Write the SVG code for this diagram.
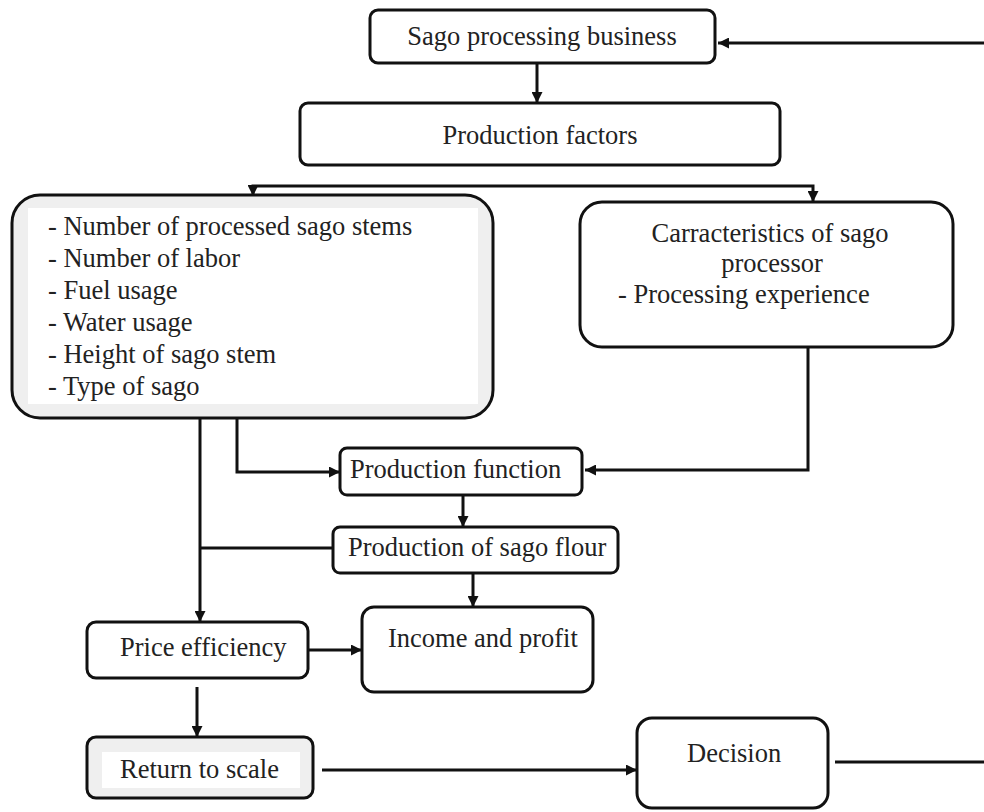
<svg xmlns="http://www.w3.org/2000/svg" width="984" height="812" viewBox="0 0 984 812">
<defs>
<style>
.box{fill:#fff;stroke:#111;stroke-width:3}
.gbox{fill:#efefef;stroke:#111;stroke-width:3}
.inner{fill:#fff;stroke:none}
.t{font-family:"Liberation Serif","Times New Roman",serif;font-size:26.5px;fill:#222}
.c{text-anchor:middle}
.ln{fill:none;stroke:#111;stroke-width:3}
.ar{fill:none;stroke:#111;stroke-width:3;marker-end:url(#ah)}
</style>
<marker id="ah" viewBox="0 0 10 10" refX="10" refY="5" markerWidth="12" markerHeight="11" markerUnits="userSpaceOnUse" orient="auto">
<path d="M0,0 L10,5 L0,10 z" fill="#111"/>
</marker>
</defs>
<rect width="984" height="812" fill="#fff"/>

<g id="connectors">
<path class="ar" d="M984,43 H718"/>
<path class="ar" d="M537,63 V103"/>
<path class="ar" d="M540,186 H253 V196"/>
<path class="ar" d="M540,186 H813 V202"/>
<path class="ar" d="M808,347 V470 H585"/>
<path class="ar" d="M237,418 V472 H340"/>
<path class="ar" d="M200,418 V622"/>
<path class="ln" d="M200,548 H333"/>
<path class="ar" d="M463,495 V527"/>
<path class="ar" d="M473,573 V607"/>
<path class="ar" d="M308,650 H362"/>
<path class="ar" d="M197,687 V737"/>
<path class="ar" d="M322,770 H637"/>
<path class="ln" d="M835,762 H984"/>
</g>

<g id="sago-business">
<rect class="box" x="370" y="10" width="345" height="53" rx="8"/>
<text class="t c" x="542" y="45">Sago processing business</text>
</g>

<g id="production-factors">
<rect class="box" x="300" y="103" width="480" height="62" rx="8"/>
<text class="t c" x="540" y="144">Production factors</text>
</g>

<g id="inputs">
<rect class="gbox" x="12" y="195" width="481" height="223" rx="28"/>
<rect class="inner" x="28" y="208" width="450" height="196"/>
<text class="t" x="48" y="235">- Number of processed sago stems</text>
<text class="t" x="48" y="267">- Number of labor</text>
<text class="t" x="48" y="299">- Fuel usage</text>
<text class="t" x="48" y="331">- Water usage</text>
<text class="t" x="48" y="363">- Height of sago stem</text>
<text class="t" x="48" y="395">- Type of sago</text>
</g>

<g id="characteristics">
<rect class="box" x="580" y="202" width="373" height="145" rx="22"/>
<text class="t c" x="770" y="242">Carracteristics of sago</text>
<text class="t c" x="772" y="272">processor</text>
<text class="t" x="618" y="303">- Processing experience</text>
</g>

<g id="production-function">
<rect class="box" x="340" y="448" width="242" height="47" rx="7"/>
<text class="t" x="350" y="478">Production function</text>
</g>

<g id="production-flour">
<rect class="box" x="333" y="527" width="285" height="46" rx="7"/>
<text class="t" x="348" y="556">Production of sago flour</text>
</g>

<g id="income">
<rect class="box" x="362" y="607" width="231" height="85" rx="12"/>
<text class="t" x="388" y="647">Income and profit</text>
</g>

<g id="price-efficiency">
<rect class="box" x="87" y="622" width="221" height="56" rx="9"/>
<text class="t" x="120" y="656">Price efficiency</text>
</g>

<g id="return-to-scale">
<rect class="gbox" x="87" y="737" width="226" height="61" rx="9"/>
<rect class="inner" x="102" y="752" width="198" height="36"/>
<text class="t" x="120" y="778">Return to scale</text>
</g>

<g id="decision">
<rect class="box" x="637" y="718" width="191" height="90" rx="15"/>
<text class="t" x="687" y="762">Decision</text>
</g>
</svg>
